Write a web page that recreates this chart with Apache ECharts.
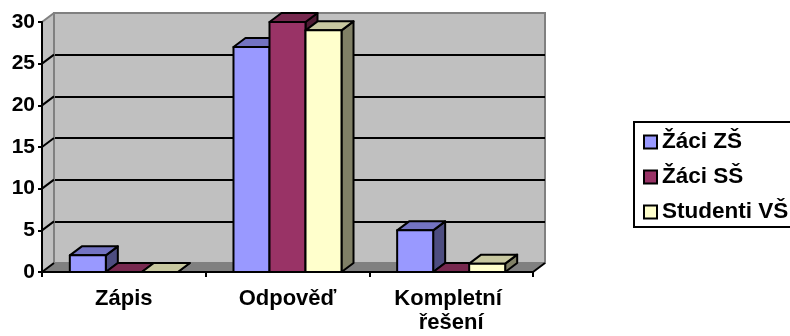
<!DOCTYPE html>
<html>
<head>
<meta charset="utf-8">
<script src="https://cdn.jsdelivr.net/npm/echarts@6/dist/echarts.min.js"></script>
<style>
html,body{margin:0;padding:0;background:#fff;overflow:hidden;}
#chart{width:790px;height:336px;}
</style>
</head>
<body>
<div id="chart"></div>
<script>
// ---- data ----
const categories = ['Zápis', 'Odpověď', 'Kompletní řešení'];
const seriesNames = ['Žáci ZŠ', 'Žáci SŠ', 'Studenti VŠ'];
const zakiZS = [2, 27, 5];
const zakiSS = [0, 30, 0];
const studentiVS = [0, 29, 1];
const yMin = 0, yMax = 30, yStep = 5;

// ---- styles ----
const FONT = 'Liberation Sans, Arial, sans-serif';
const frontColors = ['#9999FF', '#993366', '#FFFFCC'];
const topColors = ['#7373C2', '#77294F', '#C8C8A0'];
const sideColors = ['#4D4D80', '#4D1A33', '#808066'];
const DX = 12, DY = 9;
const BAR_RATIO = 0.22;

const allValues = [zakiZS, zakiSS, studentiVS];

function barRenderer(k) {
  return function (params, api) {
    const cat = api.value(0), v = api.value(1);
    const top = api.coord([cat, v]);
    const bot = api.coord([cat, 0]);
    const band = api.size([1, 0])[0];
    const w = band * BAR_RATIO;
    const x0 = top[0] + (k - 1) * w - w / 2, x1 = x0 + w;
    const yT = top[1], yB = bot[1];
    const st = { stroke: '#000', lineWidth: 2, lineJoin: 'round' };
    return {
      type: 'group',
      children: [
        { type: 'polygon', shape: { points: [[x1, yT], [x1 + DX, yT - DY], [x1 + DX, yB - DY], [x1, yB]] },
          style: Object.assign({ fill: sideColors[k] }, st) },
        { type: 'polygon', shape: { points: [[x0, yT], [x0 + DX, yT - DY], [x1 + DX, yT - DY], [x1, yT]] },
          style: Object.assign({ fill: topColors[k] }, st) },
        { type: 'rect', shape: { x: x0, y: yT, width: w, height: yB - yT },
          style: Object.assign({ fill: frontColors[k] }, st) }
      ]
    };
  };
}

function wallRenderer(params, api) {
  const cs = params.coordSys;
  const x = cs.x, y = cs.y, w = cs.width, h = cs.height;
  const children = [
    { type: 'polygon', shape: { points: [[x, y], [x + DX, y - DY], [x + DX, y + h - DY], [x, y + h]] },
      style: { fill: '#C0C0C0' } },
    { type: 'polygon', shape: { points: [[x, y + h], [x + DX, y + h - DY], [x + w + DX, y + h - DY], [x + w, y + h]] },
      style: { fill: '#808080' } },
    { type: 'line', shape: { x1: x, y1: y, x2: x + DX, y2: y - DY },
      style: { stroke: '#808080', lineWidth: 2 } },
    { type: 'line', shape: { x1: x + DX, y1: y - DY, x2: x + DX, y2: y + h - DY },
      style: { stroke: '#808080', lineWidth: 2 } },
    { type: 'line', shape: { x1: x + w, y1: y + h, x2: x + w + DX, y2: y + h - DY },
      style: { stroke: '#000', lineWidth: 2 } }
  ];
  for (let v = yMin; v < yMax; v += yStep) {
    const p = api.coord([0, v]);
    children.push({ type: 'line', shape: { x1: x, y1: p[1], x2: x + DX, y2: p[1] - DY },
      style: { stroke: '#000', lineWidth: 2 } });
  }
  return { type: 'group', children: children };
}

const chart = echarts.init(document.getElementById('chart'), null, { renderer: 'canvas' });

const barSeries = seriesNames.map((name, k) => ({
  name: name,
  type: 'custom',
  xAxisIndex: 0,
  yAxisIndex: 0,
  z: 3,
  clip: false,
  itemStyle: { color: frontColors[k] },
  renderItem: barRenderer(k),
  data: allValues[k].map((v, i) => [i, v])
}));

chart.setOption({
  animation: false,
  backgroundColor: '#ffffff',
  graphic: [
    { type: 'polyline', shape: { points: [[800, 122], [634, 122], [634, 227], [800, 227]] },
      style: { fill: 'none', stroke: '#000', lineWidth: 2 }, z: 10 }
  ],
  grid: [
    { left: 42, top: 22, width: 491, height: 250, show: false, containLabel: false },
    { left: 54, top: 13, width: 491, height: 250, show: true, backgroundColor: '#C0C0C0',
      borderColor: '#808080', borderWidth: 2, z: 0 }
  ],
  xAxis: [
    { type: 'category', gridIndex: 0, data: categories, z: 5,
      axisLine: { show: true, lineStyle: { color: '#000', width: 2 } },
      axisTick: { show: true, length: 5, lineStyle: { color: '#000', width: 2 } },
      axisLabel: { color: '#000', fontFamily: FONT, fontWeight: 'bold', fontSize: 22, lineHeight: 24,
        margin: 15, width: 140, overflow: 'break', interval: 0 } },
    { type: 'category', gridIndex: 1, data: categories, show: false }
  ],
  yAxis: [
    { type: 'value', gridIndex: 0, min: yMin, max: yMax, interval: yStep, z: 5,
      axisLine: { show: true, lineStyle: { color: '#000', width: 2 } },
      axisTick: { show: true, length: 4, lineStyle: { color: '#000', width: 2 } },
      splitLine: { show: false },
      axisLabel: { color: '#000', fontFamily: FONT, fontWeight: 'bold', fontSize: 21, margin: 7 } },
    { type: 'value', gridIndex: 1, min: yMin, max: yMax, interval: yStep, z: 1,
      axisLine: { show: false }, axisTick: { show: false }, axisLabel: { show: false },
      splitLine: { show: true, showMinLine: false, showMaxLine: false, lineStyle: { color: '#000', width: 2 } } }
  ],
  legend: {
    orient: 'vertical',
    left: 634, top: 122,
    padding: [8, 0, 4, 9],
    itemGap: 11,
    itemWidth: 13, itemHeight: 13,
    borderWidth: 0,
    icon: 'rect',
    textStyle: { color: '#000', fontFamily: FONT, fontWeight: 'bold', fontSize: 22.5, lineHeight: 24 },
    data: seriesNames.map((n, k) => ({ name: n, icon: 'rect',
      itemStyle: { color: frontColors[k], borderColor: '#000', borderWidth: 2 } }))
  },
  series: [
    { type: 'custom', name: 'wall', xAxisIndex: 0, yAxisIndex: 0, z: 2, clip: false,
      silent: true, renderItem: wallRenderer, data: [[0, 0]] }
  ].concat(barSeries)
});
</script>
</body>
</html>
